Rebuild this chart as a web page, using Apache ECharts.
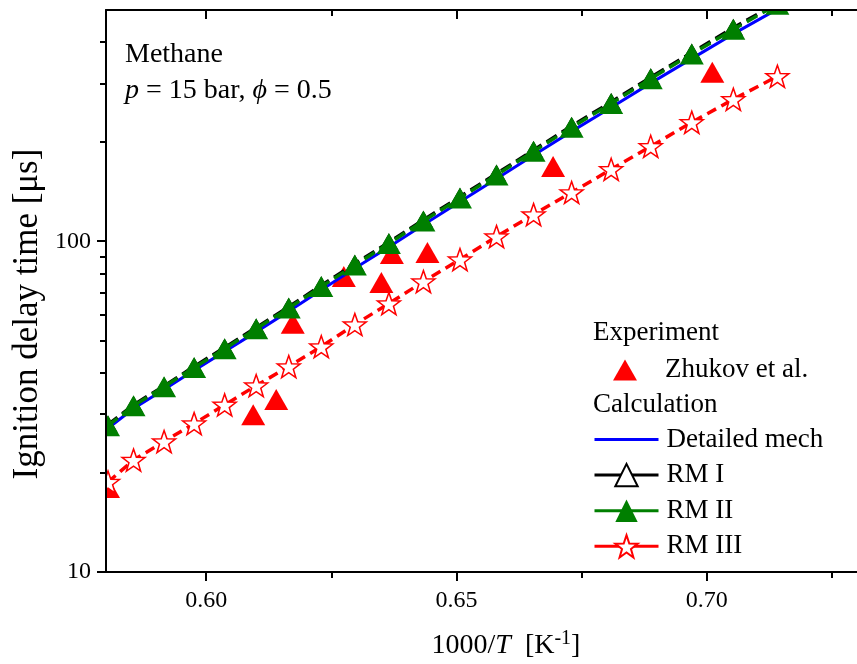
<!DOCTYPE html>
<html>
<head>
<meta charset="utf-8">
<script src="https://cdn.jsdelivr.net/npm/echarts@6/dist/echarts.min.js"></script>
<style>
html,body{margin:0;padding:0;background:#fff;}
#chart{width:857px;height:664px;}
</style>
</head>
<body>
<div id="chart"></div>
<script>
// ---- data ----
const invT = [0.5804, 0.5855, 0.5916, 0.5976, 0.6037, 0.6100, 0.6165, 0.6230, 0.6297, 0.6365,
              0.6434, 0.6507, 0.6580, 0.6654, 0.6730, 0.6809, 0.6888, 0.6970, 0.7053, 0.7141];
const detailedMech = [27.2, 31.2, 35.6, 40.7, 46.4, 53.2, 61.4, 71.2, 82.8, 96.0,
                      112.2, 131.6, 154.4, 181.8, 214.8, 253.6, 300.5, 356.4, 423.5, 503];
const rmI   = [27.9, 32.0, 36.5, 41.8, 47.7, 54.8, 63.3, 73.5, 85.4, 99.2,
               116.0, 136.2, 160.0, 188.5, 223, 263.5, 313, 371.5, 441.5, 525];
const rmII  = [27.7, 31.8, 36.3, 41.5, 47.3, 54.4, 62.8, 72.9, 84.7, 98.4,
               115.1, 135.1, 158.6, 186.9, 221, 261, 310, 368, 437, 520];
const rmIII = [18.7, 21.8, 24.8, 28.1, 32.0, 36.6, 41.8, 48.0, 56.0, 64.8,
               75.5, 88.0, 103.3, 120.4, 140.4, 164.9, 193.5, 228.8, 268.5, 315.2];
const zhukovX = [0.5804, 0.6094, 0.6140, 0.6173, 0.6275, 0.6350, 0.6371, 0.6442, 0.6693, 0.7011];
const zhukovY = [18.0, 29.9, 33.2, 56.5, 78.2, 75.0, 91.8, 92.4, 168.3, 324];

const xMajorTicks = [0.60, 0.65, 0.70];
const xMinorTicks = [0.625, 0.675, 0.725];
const yMajorTicks = [10, 100];
const yMinorTicks = [20, 30, 40, 50, 60, 70, 80, 90, 200, 300, 400];

const FONT = '"Liberation Serif", "Times New Roman", serif';
const pair = (xa, ya) => xa.map((x, i) => [x, ya[i]]);
const starPath = 'path://M50,0L61.76,33.82L97.55,34.55L69.02,56.18L79.39,90.45L50,70L20.61,90.45L30.98,56.18L2.45,34.55L38.24,33.82Z';

const chart = echarts.init(document.getElementById('chart'), null, {renderer: 'canvas'});

const axisLineStyle = {show: true, lineStyle: {color: '#000', width: 2}};
function xAx(pos, ticks, len, inside, labels, lineShow) {
  return {
    type: 'value', gridIndex: 0, position: pos, min: 0.58, max: 0.73, z: 10,
    axisLine: lineShow ? axisLineStyle : {show: false},
    axisTick: {show: true, customValues: ticks, length: len, inside: inside, lineStyle: {color: '#000', width: 2}},
    axisLabel: labels ? {show: true, customValues: ticks, formatter: v => v.toFixed(2),
      fontFamily: FONT, fontSize: 24, color: '#000', margin: 17} : {show: false},
    splitLine: {show: false}
  };
}
function yAx(ticks, len, labels, lineShow) {
  return {
    type: 'log', logBase: 10, gridIndex: 0, position: 'left', min: 10, max: 500, z: 10,
    axisLine: lineShow ? axisLineStyle : {show: false},
    axisTick: {show: true, customValues: ticks, length: len, lineStyle: {color: '#000', width: 2}},
    axisLabel: labels ? {show: true, customValues: ticks, fontFamily: FONT, fontSize: 24, color: '#000', margin: 15} : {show: false},
    splitLine: {show: false}, minorTick: {show: false}
  };
}

const legendText = {fontFamily: FONT, fontSize: 27, color: '#000', padding: [0, 0, 0, 3]};

const option = {
  animation: false,
  backgroundColor: '#fff',
  grid: {left: 106, top: 10, width: 763, height: 562, containLabel: false},
  xAxis: [
    xAx('bottom', xMajorTicks, 9, false, true, true),
    xAx('bottom', xMinorTicks, 6, false, false, false),
    xAx('top', xMajorTicks, 9, true, false, true),
    xAx('top', xMinorTicks, 6, true, false, false)
  ],
  yAxis: [
    yAx(yMajorTicks, 9, true, true),
    yAx(yMinorTicks, 6, false, false)
  ],
  legend: [
    {
      orient: 'vertical', left: 613, top: 356.5, padding: 0,
      itemWidth: 64, itemHeight: 21, selectedMode: false,
      data: [{name: 'Zhukov et al.', icon: 'path://M12,0L24,21L0,21Z'}],
      textStyle: legendText
    },
    {
      orient: 'vertical', left: 593, top: 426, padding: 0,
      itemWidth: 64, itemHeight: 28, itemGap: 8.6, selectedMode: false,
      lineStyle: {width: 3},
      data: [
        {name: 'Detailed mech', itemStyle: {opacity: 0}},
        {name: 'RM I', lineStyle: {type: 'solid'}},
        {name: 'RM II', lineStyle: {type: 'solid'}},
        {name: 'RM III', lineStyle: {type: 'solid'}}
      ],
      textStyle: legendText
    }
  ],
  series: [
    {
      name: 'Zhukov et al.', type: 'scatter', xAxisIndex: 0, yAxisIndex: 0,
      data: pair(zhukovX, zhukovY), symbol: 'triangle', symbolSize: [24, 21],
      itemStyle: {color: '#ff0000', opacity: 1}, clip: false, z: 2
    },
    {
      name: 'Detailed mech', type: 'line', xAxisIndex: 0, yAxisIndex: 0,
      data: pair(invT, detailedMech), symbol: 'none', showSymbol: false,
      lineStyle: {color: '#0000ff', width: 3}, itemStyle: {color: '#0000ff'}, clip: false, z: 3
    },
    {
      name: 'RM I', type: 'line', xAxisIndex: 0, yAxisIndex: 0,
      data: pair(invT, rmI), symbol: 'emptyTriangle', symbolSize: [16, 14],
      lineStyle: {color: '#000', width: 3.5, type: [12, 6]}, itemStyle: {color: '#000', borderWidth: 1.5}, clip: false, z: 3
    },
    {
      name: 'RM II', type: 'line', xAxisIndex: 0, yAxisIndex: 0,
      data: pair(invT, rmII), symbol: 'triangle', symbolSize: [24, 21],
      lineStyle: {color: '#007f00', width: 3.5, type: [12, 6]}, itemStyle: {color: '#007f00'}, clip: false, z: 4
    },
    {
      name: 'RM III', type: 'line', xAxisIndex: 0, yAxisIndex: 0,
      data: pair(invT, rmIII), symbol: starPath, symbolSize: [23, 22],
      lineStyle: {color: '#ff0000', width: 3.5, type: [10, 6]},
      itemStyle: {color: '#ffffff', borderColor: '#ff0000', borderWidth: 1.5}, clip: false, z: 4
    }
  ],
  graphic: {
    elements: [
      // masks outside plot area (below axes, above series)
      {type: 'rect', z: 5, silent: true, shape: {x: 0, y: 0, width: 105, height: 664}, style: {fill: '#fff'}},
      {type: 'rect', z: 5, silent: true, shape: {x: 0, y: 0, width: 857, height: 9.5}, style: {fill: '#fff'}},
      // annotation
      {type: 'text', z: 20, x: 125, y: 55, style: {text: 'Methane', fontFamily: FONT, fontSize: 28, fill: '#000', align: 'left', verticalAlign: 'middle'}},
      {type: 'text', z: 20, x: 125, y: 91, style: {
        text: '{i|p} = 15 bar, {i|ϕ} = 0.5', fontFamily: FONT, fontSize: 28, fill: '#000', align: 'left', verticalAlign: 'middle',
        rich: {i: {fontFamily: FONT, fontSize: 28, fontStyle: 'italic', fill: '#000'}}}},
      // legend headers
      {type: 'text', z: 20, x: 593, y: 333, style: {text: 'Experiment', fontFamily: FONT, fontSize: 27, fill: '#000', align: 'left', verticalAlign: 'middle'}},
      {type: 'text', z: 20, x: 593, y: 405, style: {text: 'Calculation', fontFamily: FONT, fontSize: 27, fill: '#000', align: 'left', verticalAlign: 'middle'}},
      // axis titles
      {type: 'text', z: 20, x: 28, y: 314, rotation: Math.PI / 2, style: {
        text: 'Ignition delay time [μs]', fontFamily: FONT, fontSize: 35, fill: '#000', align: 'center', verticalAlign: 'middle'}},
      {type: 'text', z: 20, x: 506, y: 646, style: {
        text: '1000/{i|T}  [K{sup|-1}]', fontFamily: FONT, fontSize: 28, fill: '#000', align: 'center', verticalAlign: 'middle', lineHeight: 34,
        rich: {
          i: {fontFamily: FONT, fontSize: 28, fontStyle: 'italic', fill: '#000', lineHeight: 34},
          sup: {fontFamily: FONT, fontSize: 20, fill: '#000', lineHeight: 22, verticalAlign: 'top'}
        }}}
    ]
  }
};
chart.setOption(option);
</script>
</body>
</html>
